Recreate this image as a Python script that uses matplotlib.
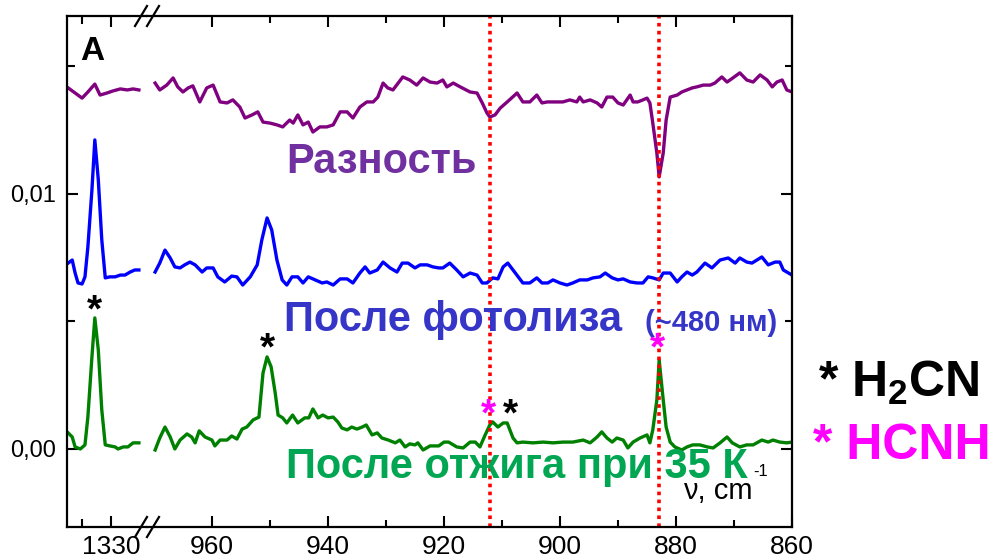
import matplotlib.pyplot as plt
from matplotlib.lines import Line2D
from matplotlib.ticker import FixedLocator, FuncFormatter

plt.rcParams['font.family'] = ['Liberation Sans', 'DejaVu Sans']
plt.rcParams['mathtext.fontset'] = 'custom'
plt.rcParams['mathtext.rm'] = 'Liberation Sans'
plt.rcParams['mathtext.bf'] = 'Liberation Sans:bold'

# absorbance values are in units of 1e-3, wavenumbers in cm-1
# --- left window (around 1330 cm-1) ---
wn_diff_l = [1337.4, 1336.2, 1335.0, 1334.0, 1332.8, 1331.9, 1330.7, 1329.7, 1328.4, 1327.2, 1326.2, 1325.2]
diff_l = [14.16, 13.96, 13.76, 14.00, 14.31, 13.88, 13.96, 14.04, 14.12, 14.08, 14.12, 14.08]

wn_phot_l = [1337.4, 1336.7, 1336.2, 1335.7, 1335.0, 1334.5, 1334.0, 1333.3, 1332.8, 1332.2,
             1331.6, 1331.0, 1330.2, 1329.3, 1328.4, 1327.6, 1326.7, 1325.9, 1325.2]
phot_l = [7.29, 7.41, 6.90, 6.51, 6.47, 6.75, 7.92, 10.16, 12.12, 10.55,
          8.20, 6.71, 6.75, 6.75, 6.82, 6.82, 6.94, 7.02, 7.02]

wn_ann_l = [1337.4, 1336.7, 1336.2, 1335.3, 1334.5, 1334.0, 1333.3, 1332.8, 1332.2,
            1331.6, 1331.0, 1330.2, 1329.3, 1328.8, 1327.9, 1327.1, 1326.2, 1325.2]
ann_l = [0.63, 0.47, 0.08, 0.00, 0.16, 1.25, 3.61, 5.14, 3.88,
         1.53, 0.16, 0.12, 0.08, 0.00, 0.08, 0.08, 0.24, 0.24]

# --- right window (970-860 cm-1) ---
wn_diff_r = [969.8, 969.0, 967.8, 966.7, 965.9, 965.0, 964.1, 963.3, 962.1, 960.9, 959.8, 958.6,
             957.4, 956.4, 955.2, 954.3, 953.1, 952.1, 951.2, 950.0, 948.8, 947.8, 946.6, 946.0,
             945.2, 944.3, 943.4, 942.6, 941.4, 940.2, 939.1, 937.9, 936.7, 935.7, 934.5, 933.3,
             932.2, 931.4, 930.5, 929.7, 928.8, 927.9, 927.1, 925.9, 924.7, 923.6, 922.4, 921.2,
             920.2, 919.5, 918.4, 917.2, 915.5, 914.3, 913.4, 912.6, 912.1, 911.2, 910.3, 909.1,
             907.4, 906.4, 905.2, 904.0, 903.1, 902.2, 901.2, 899.5, 898.3, 897.1, 896.6, 896.0,
             894.8, 893.6, 892.8, 891.9, 890.9, 890.0, 889.1, 887.9, 887.4, 886.6, 885.7, 885.0,
             884.5, 884.0, 883.3, 882.9, 882.2, 881.7, 881.0, 879.8, 879.0, 878.1, 877.2, 876.4,
             875.3, 874.1, 873.3, 872.1, 871.2, 870.2, 869.0, 867.8, 866.7, 865.5, 864.3, 863.4,
             862.6, 861.7, 860.9, 860.0]
diff_r = [14.35, 14.08, 14.27, 14.55, 14.20, 14.00, 14.16, 14.24, 13.61, 14.16, 14.27, 13.61,
          13.57, 13.69, 13.41, 12.98, 13.10, 13.22, 12.82, 12.78, 12.71, 12.63, 12.90, 12.78,
          13.10, 12.71, 12.82, 12.43, 12.63, 12.63, 12.71, 13.22, 13.22, 12.98, 13.41, 13.61,
          13.61, 13.80, 14.35, 14.16, 14.08, 14.35, 14.59, 14.47, 14.27, 14.55, 14.39, 14.35,
          14.47, 14.20, 14.35, 14.20, 14.00, 13.96, 13.57, 13.18, 13.02, 13.10, 13.37, 13.61,
          13.96, 13.61, 13.61, 13.88, 13.57, 13.61, 13.61, 13.61, 13.69, 13.61, 13.80, 13.61,
          13.69, 13.57, 13.41, 13.80, 13.80, 13.57, 13.49, 13.88, 13.61, 13.61, 13.69, 13.76,
          13.57, 12.78, 11.61, 10.67, 11.61, 12.90, 13.80, 13.88, 14.00, 14.08, 14.16, 14.20,
          14.27, 14.27, 14.35, 14.59, 14.39, 14.55, 14.75, 14.47, 14.39, 14.67, 14.47, 14.20,
          14.39, 14.47, 14.08, 14.00]

wn_phot_r = [969.8, 969.0, 968.1, 967.2, 966.4, 965.5, 964.7, 963.8, 962.9, 961.7, 960.9, 959.8,
             959.0, 957.8, 956.6, 955.7, 954.7, 953.4, 952.2, 951.4, 950.5, 949.7, 948.8, 947.9,
             947.1, 946.2, 945.2, 944.3, 943.4, 942.2, 941.0, 940.2, 939.1, 937.9, 936.7, 935.7,
             934.5, 933.6, 932.8, 931.5, 930.5, 929.3, 928.1, 927.2, 926.2, 925.0, 924.1, 922.9,
             921.9, 920.9, 920.2, 919.0, 917.8, 916.7, 915.5, 914.3, 913.4, 912.6, 911.6, 910.7,
             909.8, 909.0, 908.1, 907.2, 906.4, 905.2, 904.0, 903.1, 902.1, 901.2, 900.0, 898.8,
             897.8, 896.6, 895.3, 894.3, 893.1, 892.2, 891.0, 890.0, 889.1, 887.9, 886.7, 885.7,
             884.8, 884.0, 882.9, 882.2, 881.0, 879.8, 879.0, 878.1, 877.2, 876.4, 875.0, 873.8,
             872.4, 871.0, 869.8, 869.0, 867.8, 866.9, 865.2, 864.1, 862.9, 862.1, 861.5, 860.0]
phot_r = [6.94, 7.29, 7.80, 7.49, 7.14, 7.10, 7.22, 7.33, 7.22, 6.94, 7.10, 7.10,
          6.75, 6.55, 6.78, 6.75, 6.43, 6.75, 7.22, 8.20, 9.06, 8.59, 7.41, 6.63,
          6.43, 6.75, 6.75, 6.51, 6.75, 6.63, 6.51, 6.55, 6.43, 6.67, 6.67, 6.51,
          6.90, 7.14, 6.90, 7.02, 7.33, 7.10, 6.94, 7.29, 7.29, 7.10, 7.22, 7.22,
          7.14, 7.10, 7.10, 7.29, 7.02, 6.75, 6.90, 6.82, 6.51, 6.51, 6.71, 6.67,
          7.14, 7.29, 7.02, 6.75, 6.51, 6.51, 6.71, 6.51, 6.51, 6.63, 6.51, 6.43,
          6.51, 6.63, 6.63, 6.71, 6.75, 6.90, 6.71, 6.63, 6.67, 6.55, 6.51, 6.51,
          6.75, 6.71, 6.63, 6.90, 6.90, 6.55, 6.75, 6.94, 6.82, 6.94, 7.29, 7.10,
          7.41, 7.49, 7.29, 7.49, 7.33, 7.29, 7.53, 7.22, 7.33, 7.33, 7.02, 6.82]

wn_ann_r = [969.8, 969.0, 968.1, 967.2, 966.4, 965.5, 964.3, 963.5, 962.9, 962.2, 961.2, 960.0,
            959.5, 958.6, 957.4, 956.6, 955.7, 954.8, 954.0, 952.9, 951.9, 951.2, 950.5, 949.8,
            949.1, 948.6, 947.8, 947.1, 946.1, 945.2, 944.0, 943.3, 942.6, 941.7, 940.9, 940.0,
            939.1, 938.3, 937.6, 936.7, 935.9, 935.0, 934.1, 933.4, 932.4, 931.5, 930.7, 929.6,
            928.4, 927.6, 926.7, 925.9, 925.0, 924.5, 923.6, 922.4, 920.9, 920.0, 919.2, 917.8,
            916.7, 915.5, 914.6, 913.8, 912.9, 912.1, 911.6, 910.7, 909.8, 909.1, 908.1, 907.4,
            906.4, 904.7, 902.9, 901.2, 899.5, 897.8, 896.0, 894.8, 893.6, 892.8, 891.9, 891.0,
            890.2, 889.1, 888.3, 887.4, 886.2, 885.0, 884.5, 884.0, 883.3, 882.9, 882.2, 881.7,
            881.0, 880.2, 879.0, 878.1, 877.1, 875.9, 874.6, 873.6, 872.4, 871.2, 870.3, 869.0,
            867.8, 866.7, 865.2, 864.1, 863.3, 862.1, 860.9, 860.0]
ann_r = [-0.04, 0.43, 0.86, 0.47, 0.00, 0.35, 0.59, 0.47, 0.24, 0.71, 0.47, 0.35,
         0.12, 0.35, 0.35, 0.51, 0.39, 0.78, 0.86, 1.14, 1.25, 2.98, 3.61, 3.22,
         2.20, 1.33, 1.22, 1.02, 1.33, 1.02, 1.22, 1.22, 1.57, 1.22, 1.33, 1.22,
         1.25, 1.06, 0.82, 0.75, 0.86, 0.78, 0.86, 0.94, 0.55, 0.63, 0.43, 0.35,
         0.24, 0.35, 0.08, 0.20, 0.16, 0.24, -0.04, 0.12, 0.12, 0.27, 0.27, 0.08,
         0.04, 0.27, 0.27, 0.08, 0.55, 0.94, 1.06, 0.86, 1.02, 1.02, 0.43, 0.24,
         0.27, 0.24, 0.27, 0.24, 0.27, 0.27, 0.35, 0.24, 0.47, 0.67, 0.43, 0.27,
         0.43, 0.35, 0.04, 0.27, 0.43, 0.55, 0.24, 0.75, 1.92, 3.49, 1.92, 0.86,
         0.27, 0.08, -0.04, 0.08, 0.16, 0.16, 0.08, 0.04, 0.24, 0.47, 0.24, 0.08,
         0.16, 0.16, 0.35, 0.27, 0.35, 0.27, 0.24, 0.27]

marked_lines = [912.0, 883.0]

W, H = 994, 560
fig = plt.figure(figsize=(W / 100, H / 100), dpi=100)

x0, xb, x1 = 67, 147, 792
ytop, ybot = 16, 527
ax_l = fig.add_axes([x0 / W, 1 - ybot / H, (xb - x0) / W, (ybot - ytop) / H])
ax_r = fig.add_axes([xb / W, 1 - ybot / H, (x1 - xb) / W, (ybot - ytop) / H], sharey=ax_l)

for ax, wns, ys in [(ax_l, [wn_diff_l, wn_phot_l, wn_ann_l], [diff_l, phot_l, ann_l]),
                    (ax_r, [wn_diff_r, wn_phot_r, wn_ann_r], [diff_r, phot_r, ann_r])]:
    for wn, y, c in zip(wns, ys, ['#800080', '#0000FF', '#008000']):
        ax.plot(wn, [v / 1000 for v in y], color=c, lw=2.4, solid_joinstyle='round')

for x in marked_lines:
    ax_r.axvline(x, color='#FF0000', ls=(0, (1, 1.2)), lw=2.6)

ax_l.set_xlim(1337.6, 1323.8)
ax_r.set_xlim(971.2, 860)
ax_l.set_ylim(-0.00306, 0.01698)

ax_l.spines['right'].set_visible(False)
ax_r.spines['left'].set_visible(False)
for ax in (ax_l, ax_r):
    for s in ax.spines.values():
        s.set_linewidth(1.6)

ax_l.xaxis.set_major_locator(FixedLocator([1330]))
ax_l.xaxis.set_minor_locator(FixedLocator([1335]))
ax_r.xaxis.set_major_locator(FixedLocator([960, 940, 920, 900, 880, 860]))
ax_r.xaxis.set_minor_locator(FixedLocator([950, 930, 910, 890, 870]))
ax_l.yaxis.set_major_locator(FixedLocator([0.0, 0.01]))
ax_l.yaxis.set_minor_locator(FixedLocator([0.005, 0.015]))
ax_l.yaxis.set_major_formatter(FuncFormatter(lambda v, p: f'{v:.2f}'.replace('.', ',')))

ax_l.tick_params(axis='x', which='both', direction='in', top=True, labelsize=19, pad=6)
ax_l.tick_params(axis='y', which='both', direction='in', right=False, labelsize=17, pad=8)
ax_l.tick_params(which='major', length=8, width=1.5)
ax_l.tick_params(which='minor', length=6, width=1.5)
ax_r.tick_params(axis='x', which='both', direction='in', top=True, labelsize=19, pad=6)
ax_r.tick_params(axis='y', which='both', direction='in', left=False, right=True, labelleft=False)
ax_r.tick_params(which='major', length=8, width=1.5)
ax_r.tick_params(which='minor', length=5, width=1.5)

# axis break marks
for yc in (H - ytop, H - ybot):
    for xc in (141, 153):
        fig.add_artist(Line2D([(xc - 6) / W, (xc + 6) / W], [(yc - 10) / H, (yc + 10) / H],
                              color='black', lw=1.6))


def ftext(x, y, s, **kw):
    fig.text(x / W, 1 - y / H, s, **kw)


ftext(80, 51, 'A', fontsize=24, fontweight='bold', va='center')
ftext(286, 162, 'Разность', fontsize=30, fontweight='bold', color='#7030A0', va='center')
ftext(284, 320, 'После фотолиза', fontsize=30, fontweight='bold', color='#3535C8', va='center')
ftext(645, 323, '(~480 нм)', fontsize=21, fontweight='bold', color='#3535C8', va='center')
ftext(286, 467, 'После отжига при 35 К', fontsize=30, fontweight='bold', color='#00A651', va='center')
ftext(753, 491, 'ν, cm', fontsize=21, ha='right', va='center')
ftext(753, 472, '-1', fontsize=12, ha='left', va='center')

# peak markers
ax_l.text(1332.8, 0.0054, '*', fontsize=28, fontweight='bold', ha='center', va='center')
ax_r.text(950.5, 0.0039, '*', fontsize=28, fontweight='bold', ha='center', va='center')
ax_r.text(912.4, 0.0013, '*', fontsize=28, fontweight='bold', color='#FF00FF', ha='center', va='center')
ax_r.text(908.6, 0.0013, '*', fontsize=28, fontweight='bold', ha='center', va='center')
ax_r.text(883.2, 0.0039, '*', fontsize=28, fontweight='bold', color='#FF00FF', ha='center', va='center')

ftext(818, 383, r'* H$_\mathbf{2}$CN', fontsize=36, fontweight='bold', va='center')
ftext(813, 446, '* HCNH', fontsize=36, fontweight='bold', color='#FF00FF', va='center')

fig.savefig('out.png', dpi=100)
